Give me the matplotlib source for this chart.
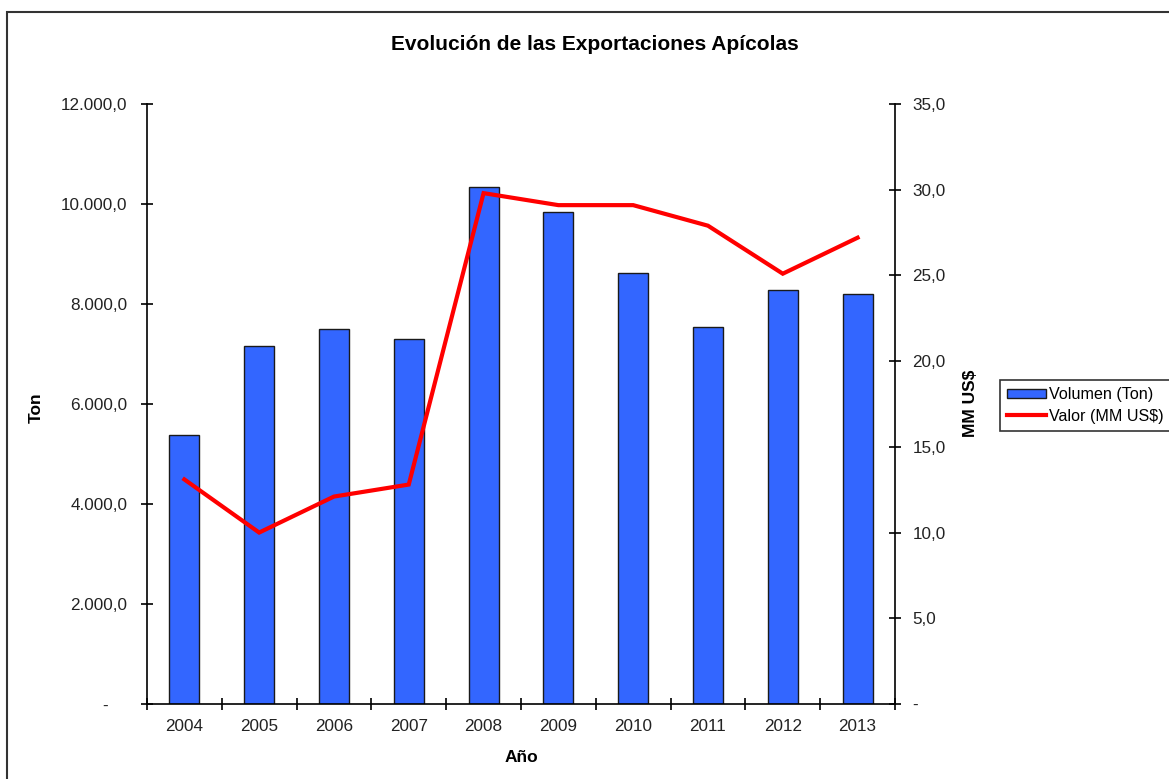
import matplotlib.pyplot as plt
import matplotlib.ticker as mticker
from matplotlib.patches import Rectangle
import numpy as np

plt.rcParams['font.family'] = ['Liberation Sans', 'DejaVu Sans']

# datos
years = ['2004', '2005', '2006', '2007', '2008', '2009', '2010', '2011', '2012', '2013']
volumen_ton = [5380, 7160, 7500, 7300, 10340, 9840, 8620, 7540, 8280, 8200]
valor_mmusd = [13.1, 10.0, 12.1, 12.8, 29.8, 29.1, 29.1, 27.9, 25.1, 27.2]


def fmt_left(v, pos):
    if abs(v) < 1e-9:
        return '-    '
    s = '{:,.1f}'.format(v)
    return s.replace(',', 'X').replace('.', ',').replace('X', '.')


def fmt_right(v, pos):
    if abs(v) < 1e-9:
        return '-'
    return '{:.1f}'.format(v).replace('.', ',')


fig = plt.figure(figsize=(11.69, 7.79), dpi=100)
ax = fig.add_axes([0.1257, 0.0963, 0.6399, 0.7702])
ax2 = ax.twinx()

x = np.arange(len(years))
ax.bar(x, volumen_ton, width=0.4, color='#3366ff', edgecolor='#1a1a1a',
       linewidth=1.0, label='Volumen (Ton)', zorder=2)
ax2.plot(x, valor_mmusd, color='#ff0000', linewidth=3.0, label='Valor (MM US$)',
         solid_joinstyle='miter', zorder=3)

ax.set_xlim(-0.5, len(years) - 0.5)
ax.set_ylim(0, 12000)
ax2.set_ylim(0, 35)

ax.yaxis.set_major_locator(mticker.MultipleLocator(2000))
ax.yaxis.set_major_formatter(mticker.FuncFormatter(fmt_left))
ax2.yaxis.set_major_locator(mticker.MultipleLocator(5))
ax2.yaxis.set_major_formatter(mticker.FuncFormatter(fmt_right))

ax.set_xticks(x)
ax.set_xticklabels(years)
ax.set_xticks(np.arange(-0.5, len(years)), minor=True)
ax.tick_params(axis='x', which='major', length=0, pad=11, labelsize=12.3, colors='#222222')
ax.tick_params(axis='x', which='minor', length=8, direction='inout', width=1.2, color='black')
ax.tick_params(axis='y', length=8, direction='inout', width=1.2, pad=10, labelsize=12.3,
               labelcolor='#222222')
ax2.tick_params(axis='y', length=8, direction='inout', width=1.2, pad=8.5, labelsize=12.3,
                labelcolor='#222222')

for a in (ax, ax2):
    a.spines['top'].set_visible(False)
    for sp in a.spines.values():
        sp.set_linewidth(1.2)
ax.spines['right'].set_visible(False)
ax2.spines['left'].set_visible(False)
ax2.spines['bottom'].set_visible(False)

# titulos de ejes
fig.text(521 / 1169, 1 - 757 / 779, 'Año', ha='center', va='center',
         fontsize=12.5, fontweight='bold')
fig.text(36 / 1169, 1 - 408 / 779, 'Ton', ha='center', va='center', rotation=90,
         fontsize=12.5, fontweight='bold')
fig.text(971 / 1169, 1 - 403 / 779, 'MM US$', ha='center', va='center', rotation=90,
         fontsize=12.5, fontweight='bold')

fig.text(0.509, 1 - 44 / 779, 'Evolución de las Exportaciones Apícolas', ha='center',
         va='center', fontsize=15, fontweight='bold')

h1, l1 = ax.get_legend_handles_labels()
h2, l2 = ax2.get_legend_handles_labels()
leg = fig.legend(h1 + h2, l1 + l2, loc='upper left',
                 bbox_to_anchor=(1000 / 1169, 1 - 380 / 779),
                 fontsize=11.6, frameon=True, fancybox=False, borderpad=0.45,
                 handlelength=2.4, handleheight=0.55, handletextpad=0.2,
                 labelspacing=0.4, borderaxespad=0)
leg.get_frame().set_edgecolor('black')
leg.get_frame().set_linewidth(1.2)

# marco exterior del grafico
fig.patches.append(Rectangle((7 / 1169, -0.05), 1.1, 1 - 12 / 779 + 0.05,
                             transform=fig.transFigure, fill=False,
                             edgecolor='#333333', linewidth=1.5))

fig.savefig('out.png', dpi=100)
